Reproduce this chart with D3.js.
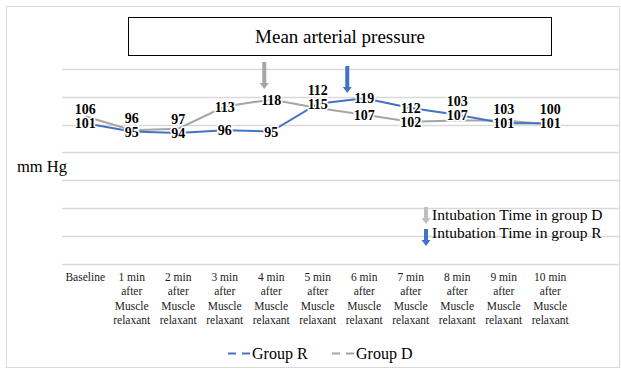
<!DOCTYPE html>
<html>
<head>
<meta charset="utf-8">
<script src="https://cdn.jsdelivr.net/npm/d3@7"></script>
<style>
  body { margin: 0; background: #fff; }
</style>
</head>
<body>
<div id="chart"></div>
<script>
var categories = ["Baseline", "1 min", "2 min", "3 min", "4 min", "5 min",
                  "6 min", "7 min", "8 min", "9 min", "10 min"];
var groupR = [101, 95, 94, 96, 95, 115, 119, 112, 107, 101, 101];
var groupD = [106, 96, 97, 113, 118, 112, 107, 102, 103, 103, 100];
var yTicks = [0, 20, 40, 60, 80, 100, 120, 140];

var W = 621, H = 370;
var svg = d3.select("#chart").append("svg")
  .attr("width", W).attr("height", H)
  .style("font-family", "'Liberation Serif', 'DejaVu Serif', serif");

// outer chart border
svg.append("rect")
  .attr("x", 6.5).attr("y", 6.5).attr("width", 613).attr("height", 361)
  .attr("fill", "none").attr("stroke", "#d9d9d9");

// title box
svg.append("rect")
  .attr("x", 128.5).attr("y", 17.5).attr("width", 423).attr("height", 38)
  .attr("fill", "#fff").attr("stroke", "#000");
svg.append("text")
  .attr("x", 340).attr("y", 43)
  .attr("text-anchor", "middle")
  .style("font-size", "19px")
  .text("Mean arterial pressure");

var x = d3.scaleBand()
  .domain(categories.concat([""]))
  .range([62, 620]);

var y = d3.scaleLinear()
  .domain([0, 140])
  .range([263.5, 69]);

// gridlines
svg.append("g")
  .selectAll("line")
  .data(yTicks)
  .enter()
  .append("line")
    .attr("x1", 62).attr("x2", 620)
    .attr("y1", d => Math.round(y(d)) + 0.5)
    .attr("y2", d => Math.round(y(d)) + 0.5)
    .attr("stroke", "#d9d9d9")
    .attr("stroke-width", 1.5);

svg.append("text")
  .attr("x", 17).attr("y", 172)
  .style("font-size", "16.5px")
  .text("mm Hg");

// x labels
var xl = svg.append("g");
categories.forEach(function(c, i) {
  var cx = x(c) + x.bandwidth() / 2;
  var lines = i === 0 ? [c] : [c, "after", "Muscle", "relaxant"];
  var t = xl.append("text")
    .attr("x", cx).attr("y", 281)
    .attr("text-anchor", "middle")
    .style("font-size", "11.5px")
    .attr("fill", "#222");
  lines.forEach(function(s, k) {
    t.append("tspan").attr("x", cx).attr("dy", k === 0 ? 0 : 14.3).text(s);
  });
});

var cxOf = (d, i) => x(categories[i]) + x.bandwidth() / 2;
var line = d3.line().x(cxOf).y(d => y(d));

svg.append("path").datum(groupD)
  .attr("d", line).attr("fill", "none")
  .attr("stroke", "#a5a5a5").attr("stroke-width", 2);
svg.append("path").datum(groupR)
  .attr("d", line).attr("fill", "none")
  .attr("stroke", "#4472c4").attr("stroke-width", 2);

// data labels (white halo so lines break behind them)
function labels(data, off) {
  svg.append("g")
    .selectAll("text")
    .data(data)
    .enter()
    .append("text")
      .attr("x", cxOf)
      .attr("y", (d, i) => y(d) + 5 + off(d, i))
      .attr("text-anchor", "middle")
      .style("font-size", "14px")
      .style("font-weight", "bold")
      .attr("stroke", "#fff").attr("stroke-width", 3)
      .attr("paint-order", "stroke")
      .text(d => d);
}
// group D label goes above when the two values are close
labels(groupD, (d, i) => Math.abs(d - groupR[i]) <= 5
  ? Math.min(0, y(groupR[i]) - y(d) - 14) : 0);
labels(groupR, () => 0);

// intubation arrows
function arrow(cx, y0, y1, col) {
  svg.append("rect")
    .attr("x", cx - 2).attr("y", y0).attr("width", 4).attr("height", y1 - y0 - 5)
    .attr("fill", col);
  svg.append("path")
    .attr("d", "M" + (cx - 4.5) + "," + (y1 - 6) + "L" + (cx + 4.5) + "," + (y1 - 6) + "L" + cx + "," + y1 + "Z")
    .attr("fill", col);
}
arrow(x("4 min") + x.bandwidth() / 2 - 7, 62, 89, "#a5a5a5");
arrow(x("6 min") + x.bandwidth() / 2 - 17, 66, 93, "#4472c4");
arrow(426, 207, 224, "#bfbfbf");
arrow(426, 229, 246, "#4472c4");

svg.append("text").attr("x", 432).attr("y", 220)
  .style("font-size", "15.5px").text("Intubation Time in group D");
svg.append("text").attr("x", 432).attr("y", 238)
  .style("font-size", "15.5px").text("Intubation Time in group R");

// legend
var legend = [["Group R", "#4472c4", 228], ["Group D", "#a5a5a5", 332]];
legend.forEach(function(l) {
  svg.append("line")
    .attr("x1", l[2]).attr("x2", l[2] + 22)
    .attr("y1", 353.5).attr("y2", 353.5)
    .attr("stroke", l[1]).attr("stroke-width", 2)
    .attr("stroke-dasharray", "8,6");
  svg.append("text")
    .attr("x", l[2] + 24).attr("y", 359)
    .style("font-size", "16px").text(l[0]);
});
</script>
</body>
</html>
